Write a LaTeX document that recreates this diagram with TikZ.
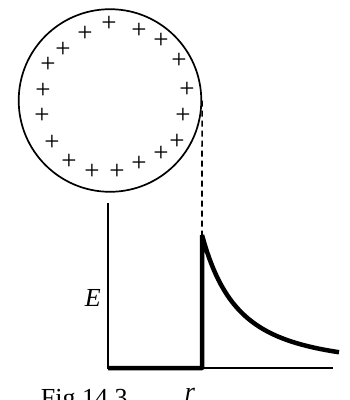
\documentclass[tikz,border=0pt]{standalone}
\usepackage{fontspec}
\setmainfont{Liberation Serif}
\usetikzlibrary{calc}
\tikzset{every picture/.style={line width=1.7pt}}

\begin{document}
\begin{tikzpicture}[x=1pt,y=-1pt,
    charge/.style={inner sep=0pt,font=\fontsize{27}{28}\selectfont},
    lbl/.style={inner sep=0pt,font=\fontsize{26}{30}\selectfont},
    field/.style={line width=4.5pt}]
    \useasboundingbox (0,0) rectangle (350,400);
    % Kugel mit Ladungen
    \node[circle,draw,minimum size=182.6pt,inner sep=0pt] (ball) at (110,100.5) {};
    \foreach \px/\py [count=\i] in {109/24,139/31,161/41,179/61,187/90,183/116,177/142,161/154,139/164,117/172,92/172,69/162,52/143,42/116,43/91,48/65,63/50,85/34}
        \node[charge] (q\i) at (\px,\py) {+};
    % Achsen
    \coordinate (O) at (108,368);
    \coordinate (ytop) at (108,203);
    \coordinate (xend) at (333,368);
    \draw (ytop) -- (O) -- (xend);
    % Feldverlauf
    \coordinate (R0) at (202,368);
    \coordinate (R1) at (202,235);
    \draw[dashed,dash pattern=on 6pt off 4pt] (ball.east) -- (R1);
    \draw[field,line join=round] (O) -- (R0) -- (R1)
        plot[domain=202:339,samples=60] (\x,{368-133*(72/(\x-130))^2});
    % Beschriftung
    \node[lbl,anchor=base west] (E) at (84,306) {\itshape E};
    \node[lbl,anchor=base] (r) at (190,400) {\itshape r};
    \node[lbl,anchor=base west] (fig) at (40,406) {Fig 14.3};
\end{tikzpicture}
\end{document}
